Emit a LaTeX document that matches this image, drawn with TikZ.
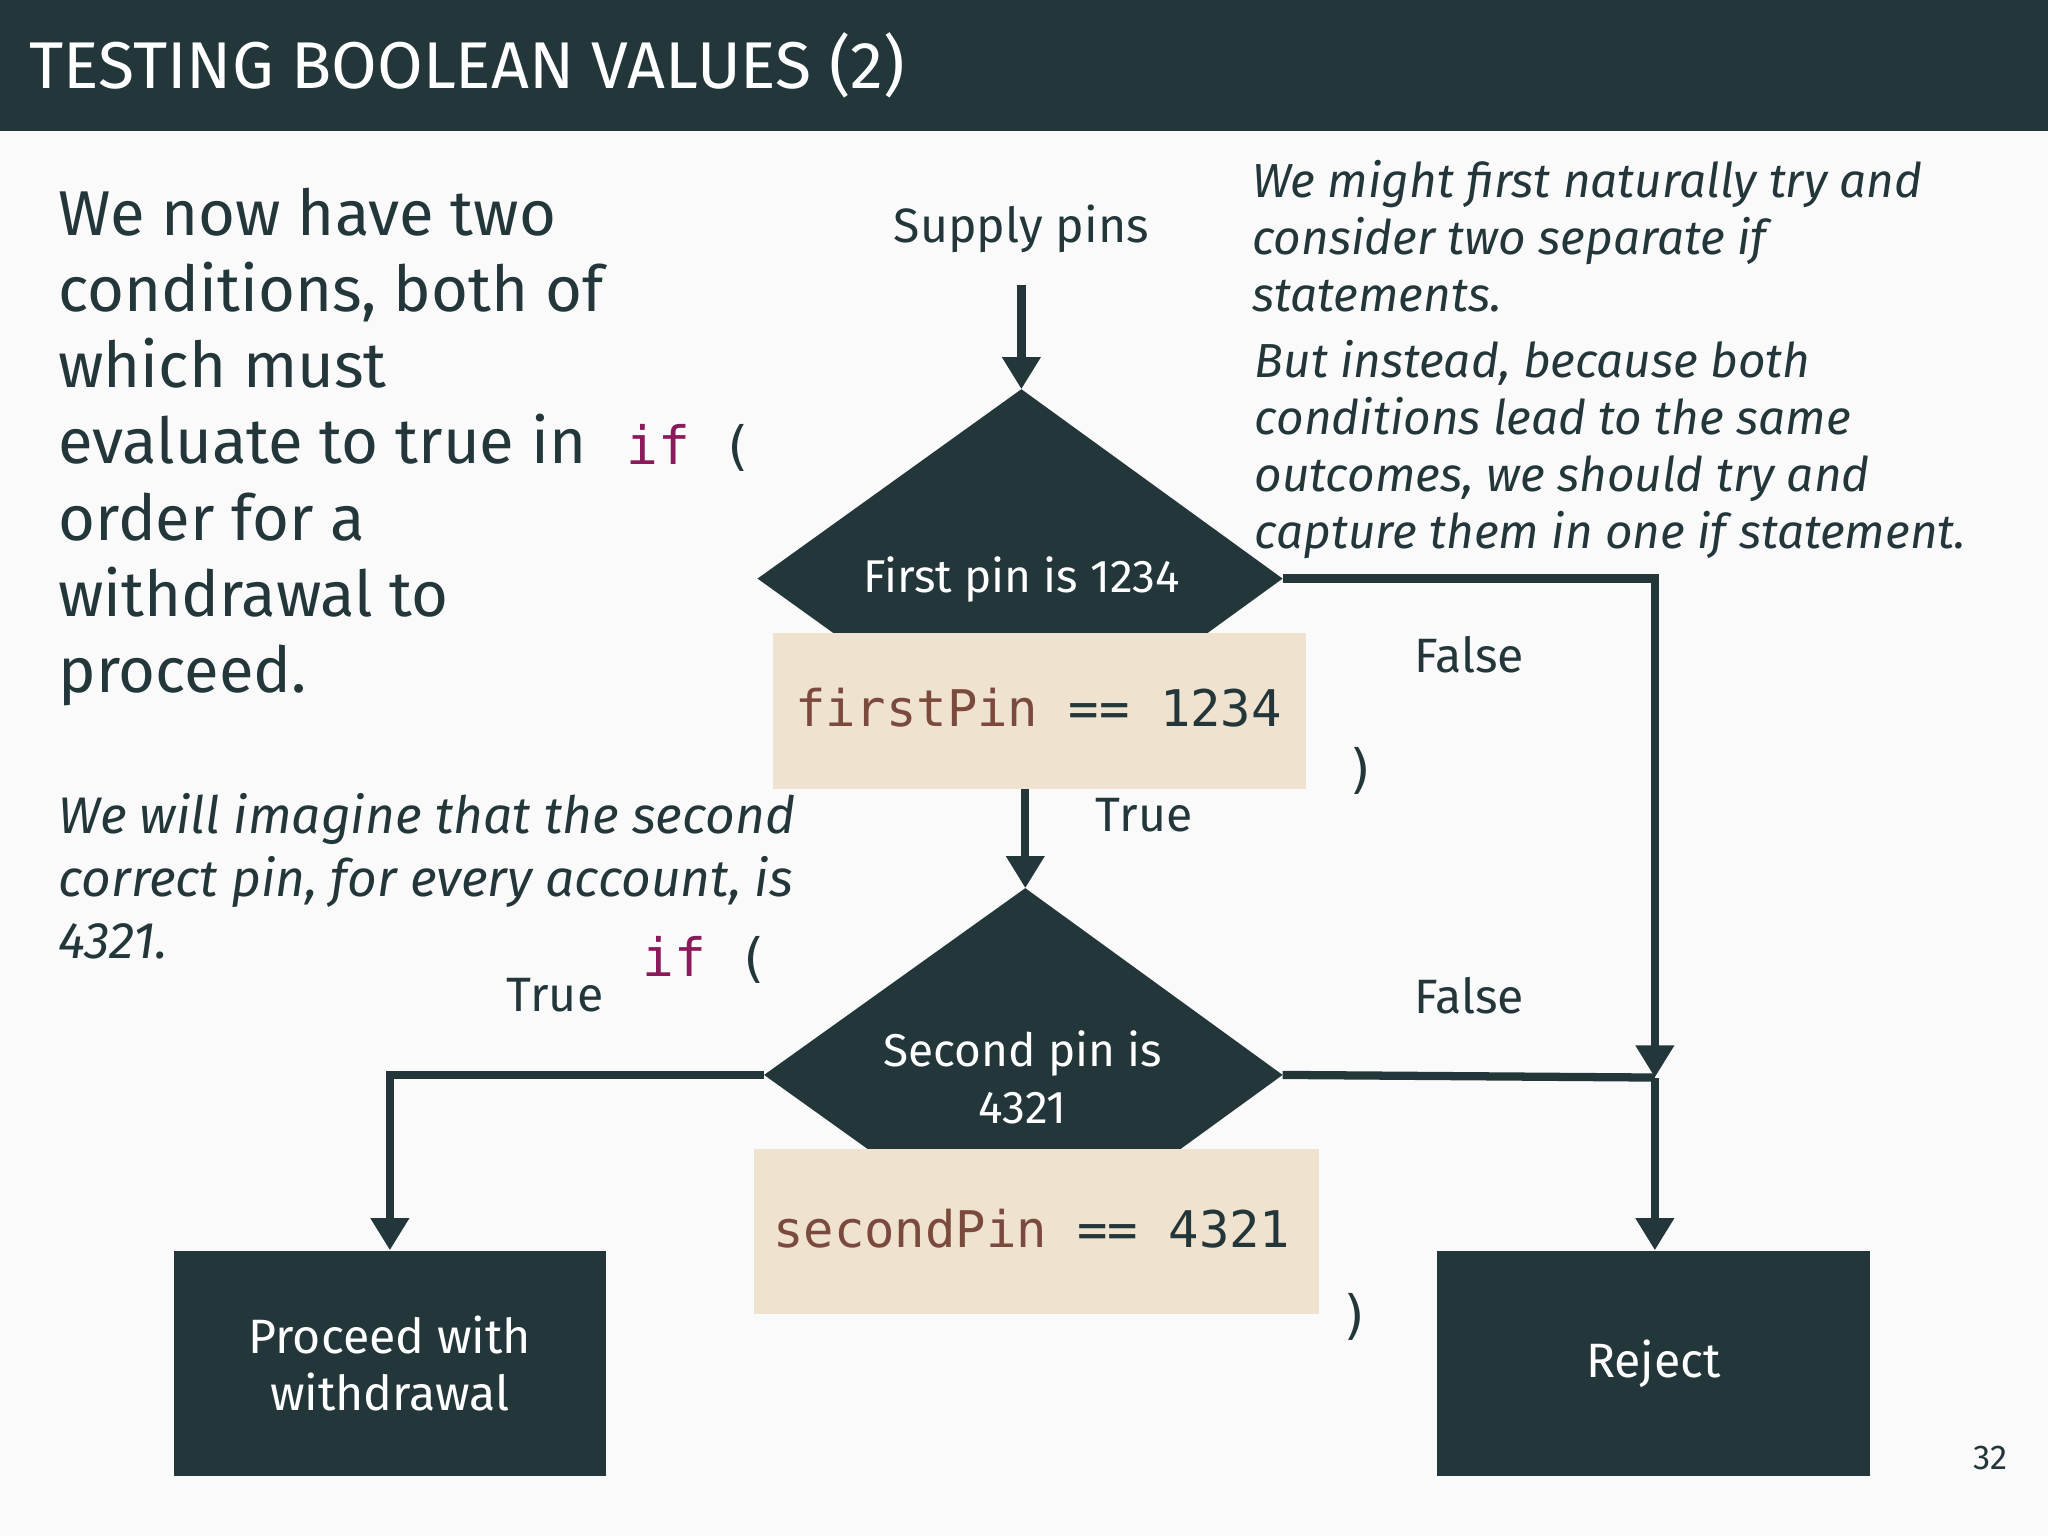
\documentclass[tikz,border=0pt]{standalone}
\usepackage{fontspec}
\setmainfont{Fira Sans}
\newfontfamily\codefont{DejaVu Sans Mono}
\usetikzlibrary{arrows.meta,shapes.geometric}
\definecolor{darkteal}{HTML}{23373B}
\definecolor{pagebg}{HTML}{FAFAFA}
\definecolor{codebg}{HTML}{EFE2CF}
\definecolor{kwcol}{HTML}{8B1A5A}
\definecolor{varcol}{HTML}{7B4A3E}
\newcommand{\kw}[1]{{\codefont\color{kwcol}#1}}
\begin{document}
\begin{tikzpicture}[x=0.01cm,y=-0.01cm,
every node/.style={inner sep=0pt, text=darkteal},
flow/.style={draw=darkteal, line width=1.8pt},
flowarrow/.style={flow, -{Triangle[length=7pt,width=8pt]}},
decision/.style={fill=darkteal},
codebox/.style={fill=codebg},
action/.style={fill=darkteal},
label/.style={font=\fontsize{10.5}{12}\selectfont},
note/.style={font=\itshape\fontsize{10.4}{12.4}\selectfont, anchor=north west, align=left}
]
\useasboundingbox (0,0) rectangle (1568,1176);
\fill[pagebg] (0,0) rectangle (1568,1176);
% title bar
\fill[darkteal] (0,0) rectangle (1568,100);
\node[anchor=west, text=white, font=\fontsize{14.4}{17}\selectfont] (title) at (22,50) {TESTING BOOLEAN VALUES (2)};

% left explanation
\node[anchor=north west, align=left, font=\fontsize{13.8}{16.6}\selectfont] (intro) at (44,143)
  {We now have two\\conditions, both of\\which must\\evaluate to true in\\order for a\\withdrawal to\\proceed.};
\node[note, font=\itshape\fontsize{11.2}{13.6}\selectfont] (imagine) at (44,607)
  {We will imagine that the second\\correct pin, for every account, is\\4321.};

% right notes
\node[note] (naive) at (958,122)
  {We might first naturally try and\\consider two separate if\\statements.};
\node[note] (better) at (960,260)
  {But instead, because both\\conditions lead to the same\\outcomes, we should try and\\capture them in one if statement.};

% first decision
\node[label] (supply) at (782,175) {Supply pins};
\coordinate (start) at (782,218);
\fill[decision] (782,298) -- (982,443) -- (782,588) -- (580,443) -- cycle;
\coordinate (first) at (782,298);
\coordinate (firstL) at (580,443);
\coordinate (firstR) at (982,443);
\node[text=white, font=\fontsize{10}{12}\selectfont] (firsttext) at (782,444) {First pin is 1234};
\fill[codebox] (592,485) rectangle (1000,604);
\node[font=\codefont\fontsize{11}{13}\selectfont] (firstcode) at (795,542)
  {\textcolor{varcol}{firstPin} == 1234};
\node[font=\codefont\fontsize{11.5}{13}\selectfont, anchor=west] (ifa) at (479,343) {\kw{if} (};
\node[font=\codefont\fontsize{11.5}{13}\selectfont] (closea) at (1042,590) {)};
\draw[flowarrow] (start) -- (first);

% second decision
\fill[decision] (785,680) -- (982,823) -- (785,966) -- (585,823) -- cycle;
\coordinate (second) at (785,680);
\coordinate (secondL) at (585,823);
\coordinate (secondR) at (982,823);
\node[text=white, align=center, font=\fontsize{10}{12.4}\selectfont] (secondtext) at (783,825) {Second pin is\\4321};
\fill[codebox] (577,880) rectangle (1010,1006);
\node[font=\codefont\fontsize{11}{13}\selectfont] (secondcode) at (790,941)
  {\textcolor{varcol}{secondPin} == 4321};
\node[font=\codefont\fontsize{11.5}{13}\selectfont, anchor=west] (ifb) at (491,735) {\kw{if} (};
\node[font=\codefont\fontsize{11.5}{13}\selectfont] (closeb) at (1038,1008) {)};
\coordinate (firstB) at (785,604);
\draw[flowarrow] (firstB) -- (second);
\node[label] (truea) at (876,624) {True};
\node[label] (falsea) at (1125,501) {False};
\node[label] (trueb) at (425,762) {True};
\node[label] (falseb) at (1125,762) {False};

% outcomes
\node[action, minimum width=3.31cm, minimum height=1.72cm, text=white, align=center,
  font=\fontsize{10.5}{12.5}\selectfont] (proceed) at (298.5,1044) {Proceed with\\withdrawal};
\node[action, minimum width=3.32cm, minimum height=1.72cm, text=white,
  font=\fontsize{10.5}{12.5}\selectfont] (reject) at (1266,1044) {Reject};
\coordinate (joint) at (1267,825);
\draw[flowarrow] (firstR) -| (joint);
\draw[flow] (secondR) -- (joint);
\draw[flowarrow] (joint) -- (reject.north -| joint);
\draw[flowarrow] (secondL) -| (proceed.north);

\node[font=\fontsize{7.5}{9}\selectfont] (page) at (1524,1116) {32};
\end{tikzpicture}
\end{document}
